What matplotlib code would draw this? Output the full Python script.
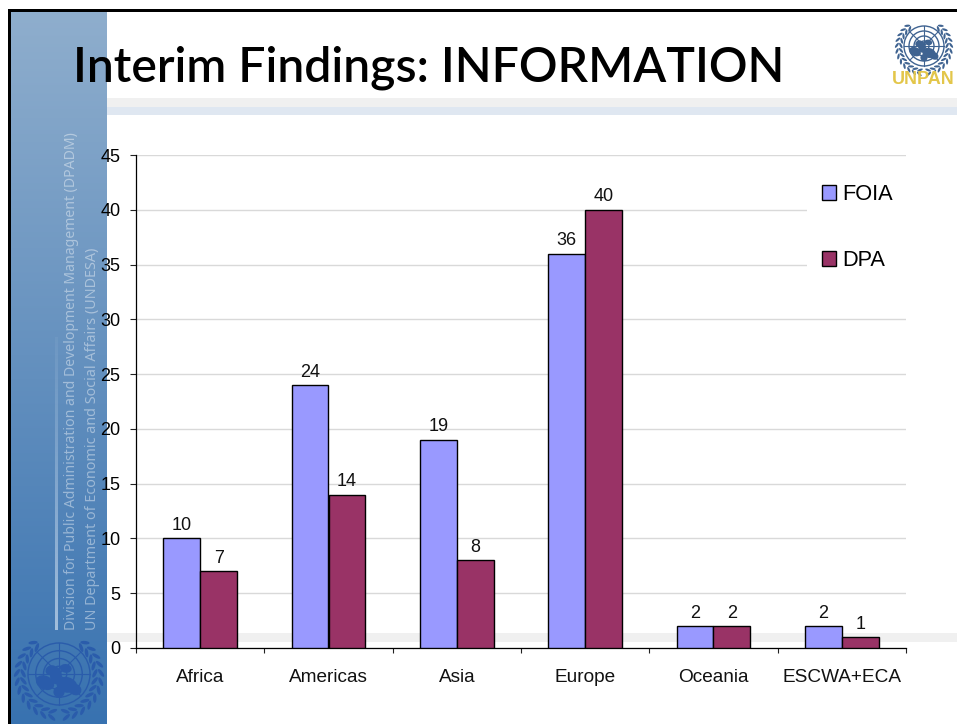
import numpy as np
import matplotlib
matplotlib.use("Agg")
import matplotlib.pyplot as plt
from matplotlib.patches import Ellipse, Circle, Rectangle
from matplotlib.colors import LinearSegmentedColormap, to_rgba

W, H = 957, 724

regions = ["Africa", "Americas", "Asia", "Europe", "Oceania", "ESCWA+ECA"]
foia = [10, 24, 19, 36, 2, 2]
dpa = [7, 14, 8, 40, 2, 1]
yticks = [0, 5, 10, 15, 20, 25, 30, 35, 40, 45]

title = "Interim Findings: INFORMATION"
side_line_1 = "Division for Public Administration and Development Management (DPADM)"
side_line_2 = "UN Department of Economic and Social Affairs (UNDESA)"

plt.rcParams["font.family"] = ["Liberation Sans", "DejaVu Sans"]


def un_emblem(ax, cx, cy, r, color, lw=1.0, zorder=3):
    """Simplified UN emblem: polar globe of radius r inside an olive wreath."""
    for frac in (0.25, 0.5, 0.75, 1.0):
        ax.add_patch(Circle((cx, cy), r * frac, fill=False, ec=color, lw=lw, zorder=zorder))
    for ang in np.radians(np.arange(0, 360, 45)):
        ax.plot([cx, cx + r * np.cos(ang)], [cy, cy + r * np.sin(ang)],
                color=color, lw=lw * 0.8, zorder=zorder)
    # Continents as solid blobs, weighted towards the lower half of the globe
    for dx, dy, ew, eh, tilt in [(-0.45, 0.28, 0.62, 0.44, 25), (-0.10, 0.05, 0.38, 0.56, 0),
                                 (0.25, 0.35, 0.68, 0.50, 15), (0.52, 0.50, 0.42, 0.36, 30),
                                 (0.00, 0.58, 0.36, 0.36, 0), (-0.25, -0.12, 0.38, 0.32, -20),
                                 (0.22, -0.18, 0.38, 0.28, 10)]:
        ax.add_patch(Ellipse((cx + dx * r, cy + dy * r), ew * r, eh * r, angle=tilt,
                             fc=color, ec="none", zorder=zorder))
    # Olive branches on both sides, meeting below the globe
    for side in (-1, 1):
        for deg in np.arange(-52, 82, 12):
            a = np.radians(deg)
            for rad, lean in ((1.16, 32), (1.36, -32)):
                x = cx + side * rad * r * np.cos(a)
                y = cy + 0.06 * r + rad * r * np.sin(a)
                ax.add_patch(Ellipse((x, y), 0.30 * r, 0.11 * r,
                                     angle=side * (deg + 90 + lean), fc=color, ec="none",
                                     zorder=zorder))


fig = plt.figure(figsize=(W / 100, H / 100), dpi=100, facecolor="white")

# Slide backdrop, laid out in pixel units
bg = fig.add_axes([0, 0, 1, 1], zorder=0)
bg.axis("off")

gradient = np.linspace(0, 1, 256)[:, None, None]
top_rgb = np.array([0x8f, 0xae, 0xcd]) / 255
bot_rgb = np.array([0x38, 0x72, 0xb0]) / 255
bg.imshow(top_rgb + (bot_rgb - top_rgb) * gradient, extent=[10, 107, H, 10],
          aspect="auto", zorder=1, interpolation="bilinear")

bg.add_patch(Rectangle((107, 98), W - 107, 9, fc="#f0f0f0", ec="none", zorder=1))
bg.add_patch(Rectangle((107, 107), W - 107, 8, fc="#dfe7f1", ec="none", zorder=1))
bg.add_patch(Rectangle((107, 633), W - 107, 9, fc="#f0f0f0", ec="none", zorder=1))

# Slide border on the left and top edges
bg.add_patch(Rectangle((8, 9), 2.5, H - 9, fc="black", ec="none", zorder=2))
bg.add_patch(Rectangle((8, 9), W - 8, 2.5, fc="black", ec="none", zorder=2))

# Vertical rule fading upwards, and the captions beside it
rule_cmap = LinearSegmentedColormap.from_list(
    "rule", [to_rgba("#b4cbe4", 0.1), to_rgba("#b4cbe4", 0.85)])
bg.imshow(np.linspace(0, 1, 128)[:, None], extent=[55, 58, 630, 337], aspect="auto",
          origin="upper", cmap=rule_cmap, zorder=2)
side_font = dict(rotation=90, ha="center", va="bottom", family="Noto Sans",
                 color="white", alpha=0.42, zorder=3)
bg.text(72, 630, side_line_1, fontsize=10.15, **side_font)
bg.text(93, 630, side_line_2, fontsize=10.35, **side_font)

un_emblem(bg, 59, 674, 31, "#2a5cab", lw=1.0)

# Logo in the top right corner
un_emblem(bg, 924, 46, 20, "#3f6391", lw=1.0)
bg.text(923.5, 79, "UNPAN", ha="center", va="center", fontsize=13.0, fontweight="bold",
        family="Liberation Sans", color="#e3c64a", zorder=4)

bg.text(73, 81, title, ha="left", va="baseline", fontsize=34.7, fontweight=600,
        family="Lato", color="black", zorder=5)

bg.set_xlim(0, W)
bg.set_ylim(H, 0)

# Chart
ax = fig.add_axes([136 / W, 1 - 648 / H, 770 / W, 493 / H], zorder=2)
ax.patch.set_alpha(0)

x = np.arange(len(regions))
bar_w = 0.288
b1 = ax.bar(x - bar_w / 2, foia, bar_w, color="#9999ff", edgecolor="black", linewidth=1,
            label="FOIA", zorder=3)
b2 = ax.bar(x + bar_w / 2, dpa, bar_w, color="#993366", edgecolor="black", linewidth=1,
            label="DPA", zorder=3)
ax.bar_label(b1, padding=3.2, fontsize=13, color="#111111")
ax.bar_label(b2, padding=3.2, fontsize=13, color="#111111")

ax.set_xlim(-0.5, len(regions) - 0.5)
ax.set_ylim(0, 45)
ax.set_yticks(yticks)
ax.tick_params(axis="y", length=4.3, width=0.8, pad=7, labelsize=13, color="#222222")
ax.set_xticks(np.arange(len(regions) + 1) - 0.5)
ax.set_xticklabels([])
ax.set_xticks(x, regions, minor=True)
ax.tick_params(axis="x", which="major", length=3.8, width=0.8, color="#222222")
ax.tick_params(axis="x", which="minor", length=0, pad=15, labelsize=13.7, labelcolor="#111111")
ax.yaxis.grid(True, color="#d9d9d9", linewidth=1)
ax.set_axisbelow(True)
for name in ("top", "right"):
    ax.spines[name].set_visible(False)
for name in ("left", "bottom"):
    ax.spines[name].set_linewidth(0.9)

leg = ax.legend(loc="upper left", bbox_to_anchor=((807 - 136) / 770, 1 - (169 - 155) / 493),
                frameon=True, fontsize=15.7, facecolor="white", edgecolor="none", framealpha=1,
                fancybox=False, borderaxespad=0, borderpad=0.7, handlelength=0.64,
                handleheight=0.64, handletextpad=0.28, labelspacing=2.05)
for h in leg.legend_handles:
    h.set_linewidth(1)
leg.set_zorder(4)

fig.savefig("out.png", dpi=100)
